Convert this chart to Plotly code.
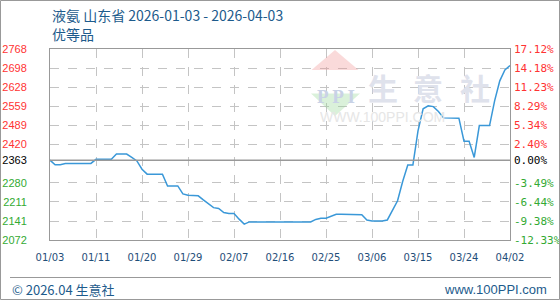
import pandas as pd
import plotly.graph_objects as go

# ---- data ----
start_date = "2026-01-03"
base_price = 2363
prices = [
    2363, 2346, 2346, 2351, 2351, 2351, 2351, 2351, 2351, 2366,
    2366, 2366, 2366, 2385, 2385, 2385, 2373, 2360, 2330, 2312,
    2312, 2312, 2312, 2269, 2269, 2269, 2240, 2235, 2234, 2233,
    2218, 2203, 2190, 2187, 2172, 2169, 2169, 2148, 2130, 2138,
    2138, 2138, 2138, 2138, 2138, 2138, 2138, 2138, 2138, 2138,
    2138, 2138, 2147, 2151, 2151, 2160, 2166, 2166, 2166, 2166,
    2166, 2164, 2145, 2141, 2141, 2141, 2145, 2180, 2215, 2285,
    2345, 2345, 2470, 2550, 2561, 2558, 2540, 2517, 2517, 2518,
    2516, 2432, 2432, 2373, 2489, 2489, 2489, 2580, 2652, 2692,
    2708,
]
x_tick_labels = ["01/03", "01/11", "01/20", "01/29", "02/07", "02/16",
                 "02/25", "03/06", "03/15", "03/24", "04/02"]
y_tick_vals = [2768, 2698, 2628, 2559, 2489, 2420, 2363, 2280, 2211, 2141, 2072]
y_tick_labels = ["2768", "2698", "2628", "2559", "2489", "2420", "2363",
                 "2280", "2211", "2141", "2072"]
pct_tick_labels = ["17.12%", "14.18%", "11.23%", "8.29%", "5.34%", "2.40%",
                   "0.00%", "-3.49%", "-6.44%", "-9.38%", "-12.33%"]

dates = pd.date_range(start_date, periods=len(prices), freq="D")
tick_dates = dates[::9]

RED = "#ff3333"
GREEN = "#33aa33"
BLACK = "#000000"


def colored(vals, labels):
    out = []
    for v, t in zip(vals, labels):
        c = RED if v > base_price else (GREEN if v < base_price else BLACK)
        out.append(f'<span style="color:{c}">{t}</span>')
    return out


fig = go.Figure()
fig.add_trace(go.Scatter(x=dates, y=prices, mode="lines",
                         line=dict(color="#3a98d8", width=1.5),
                         hoverinfo="skip", showlegend=False))
fig.add_trace(go.Scatter(x=[dates[0]], y=[base_price], yaxis="y2", mode="markers",
                         marker=dict(opacity=0), hoverinfo="skip", showlegend=False))

W, H, L, R, T, B = 560, 300, 50, 50, 49, 60
pw, ph = W - L - R, H - T - B


def px(xp):
    return (xp - L) / pw


def py(yp):
    return (H - B - yp) / ph


GRID = dict(showgrid=True, gridcolor="#c4c4c4", griddash="dash", gridwidth=1)

fig.update_layout(
    width=W, height=H,
    margin=dict(l=L, r=R, t=T, b=B, autoexpand=False),
    paper_bgcolor="white", plot_bgcolor="white",
    font=dict(family="Liberation Sans", size=11),
    xaxis=dict(type="date", range=[dates[0], dates[-1]],
               tickvals=tick_dates, ticktext=x_tick_labels,
               tickfont=dict(family="DejaVu Sans", size=10, color="#1f4e79"),
               showline=True, linecolor="#999999", linewidth=1, mirror=True,
               ticks="", ticklabelstandoff=8, zeroline=False, automargin=False, **GRID),
    yaxis=dict(range=[y_tick_vals[-1], y_tick_vals[0]],
               tickvals=y_tick_vals, ticktext=colored(y_tick_vals, y_tick_labels),
               tickfont=dict(family="Liberation Sans", size=11),
               showline=True, linecolor="#999999", linewidth=1, mirror=True,
               ticks="", ticklabelstandoff=20, zeroline=False, automargin=False, **GRID),
    yaxis2=dict(range=[y_tick_vals[-1], y_tick_vals[0]], overlaying="y", side="right",
                tickvals=y_tick_vals, ticktext=colored(y_tick_vals, pct_tick_labels),
                tickfont=dict(family="DejaVu Sans Mono", size=11),
                showgrid=False, showline=False, ticks="", ticklabelstandoff=3,
                zeroline=False, automargin=False),
)

# base line
fig.add_shape(type="line", xref="paper", yref="y", x0=0, x1=1, y0=base_price, y1=base_price,
              line=dict(color="#999999", width=1.5), layer="above")

# watermark logo
fig.add_shape(type="path", xref="paper", yref="paper", layer="above",
              path=f"M {px(311.5)},{py(70)} L {px(335)},{py(50)} L {px(358.5)},{py(70)} Z",
              fillcolor="rgba(240,150,150,0.35)", line=dict(width=0))
fig.add_shape(type="path", xref="paper", yref="paper", layer="above",
              path=f"M {px(311)},{py(93.5)} L {px(335)},{py(116)} L {px(360)},{py(93.5)} Z",
              fillcolor="rgba(150,215,150,0.35)", line=dict(width=0))
fig.add_annotation(x=px(335.5), y=py(83.5), xref="paper", yref="paper", text="<b>P P I</b>",
                   showarrow=False, height=20,
                   font=dict(family="Liberation Serif", size=19, color="#c9d2e6"))
for ch, cx in zip("生意社", [400, 445, 491.5]):
    fig.add_annotation(x=px(cx), y=py(69), xref="paper", yref="paper", text=f"<b>{ch}</b>",
                       showarrow=False, height=32,
                       font=dict(family="Noto Sans CJK SC", size=30, color="#dfe2ec"))
fig.add_annotation(x=px(446.5), y=py(107), xref="paper", yref="paper", text="WWW.100PPI.COM",
                   showarrow=False, height=15,
                   font=dict(family="Liberation Sans", size=14, color="#e6e6e6"))

# titles
TITLE_C = "#1d5b8c"
fig.add_annotation(x=0, y=py(15), xref="paper", yref="paper", xanchor="left", yanchor="middle",
                   text="液氨 山东省 2026-01-03 - 2026-04-03", showarrow=False,
                   font=dict(family="Noto Sans CJK SC", size=14, color=TITLE_C))
fig.add_annotation(x=0, y=py(34), xref="paper", yref="paper", xanchor="left", yanchor="middle",
                   text="优等品", showarrow=False,
                   font=dict(family="Noto Sans CJK SC", size=14, color=TITLE_C))

# footer
fig.add_shape(type="line", xref="paper", yref="paper", x0=px(10), x1=px(551),
              y0=py(277.5), y1=py(277.5), line=dict(color="#999999", width=1))
fig.add_annotation(x=px(10), y=py(289), xref="paper", yref="paper", xanchor="left", yanchor="middle",
                   text="© 2026.04 生意社", showarrow=False,
                   font=dict(family="Noto Sans CJK SC", size=13, color=TITLE_C))
fig.add_annotation(x=px(549), y=py(289), xref="paper", yref="paper", xanchor="right", yanchor="middle",
                   text="www.100PPI.com", showarrow=False,
                   font=dict(family="Liberation Sans", size=13, color=TITLE_C))

# outer frame
fig.add_shape(type="rect", xref="paper", yref="paper",
              x0=px(0.5), x1=px(559.5), y0=py(299.5), y1=py(0.5),
              line=dict(color="#999999", width=1), fillcolor="rgba(0,0,0,0)")

fig.write_html("out.html")
